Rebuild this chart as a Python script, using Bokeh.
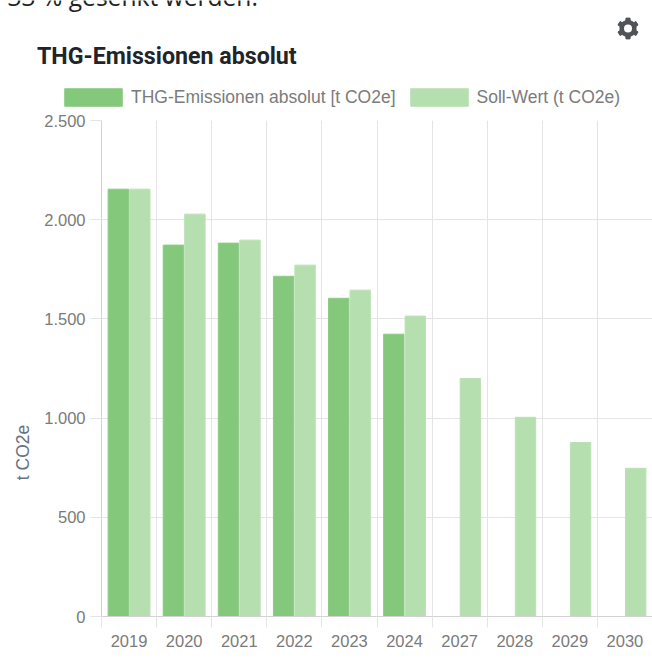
import numpy as np
from bokeh.plotting import figure
from bokeh.layouts import column
from bokeh.core.properties import value
from bokeh.models import ColumnDataSource, FixedTicker, Legend, LegendItem, Label, Range1d
from bokeh.embed import file_html
from bokeh.resources import INLINE

years = ["2019", "2020", "2021", "2022", "2023", "2024", "2027", "2028", "2029", "2030"]
ist = [2154, 1872, 1882, 1715, 1604, 1423, float("nan"), float("nan"), float("nan"), float("nan")]
soll = [2154, 2028, 1897, 1771, 1645, 1514, 1200, 1004, 877, 747]
y_ticks = [0, 500, 1000, 1500, 2000, 2500]
y_labels = ["0", "500", "1.000", "1.500", "2.000", "2.500"]
title_text = "THG-Emissionen absolut"
intro_text = "33 % gesenkt werden."
ist_name = "THG-Emissionen absolut [t CO2e]"
soll_name = "Soll-Wert (t CO2e)"
y_name = "t CO2e"

GRID = "#e4e4e4"
AXIS = "#d2d2d2"
TXT = "#7b7b7b"
DARK = "#84c87b"
LIGHT = "#b6dfaf"
HEAD_H = 108

# header strip: intro line, title, gear, legend
h = figure(width=652, height=HEAD_H, output_backend="svg", toolbar_location=None,
           x_range=Range1d(0, 652), y_range=Range1d(HEAD_H, 0), x_axis_location=None, y_axis_location=None,
           min_border=0, margin=0, outline_line_color=None, border_fill_color=None, frame_align=False)
h.grid.visible = False
h.text(x=[7], y=[4.5], text=[intro_text], y_offset=-9, text_font=value("Open Sans"), text_font_size="24.6px",
       text_color="#222222", text_baseline="alphabetic")
h.text(x=[36.5], y=[55], text=[title_text], text_font=value("Roboto"), text_font_style="bold",
       text_font_size="23.2px", text_color="#212529", text_baseline="middle")

# settings icon
gx, gy = [], []
for k in range(6):
    c = 90 + 60 * k
    for da, r in [(-30, 8.0), (-15, 8.4), (-11, 10.6), (11, 10.6), (15, 8.4)]:
        a = np.radians(c + da)
        gx.append(627.5 + r * np.cos(a))
        gy.append(28 - r * np.sin(a))
h.patch(gx, gy, fill_color="#505458", line_color="#505458", line_width=1)
h.scatter(x=[627.5], y=[28], size=8, marker="circle", fill_color="white", line_color=None)

d1 = h.vbar(x=[float("nan")], top=[float("nan")], width=1, fill_color=DARK, line_color="#8dcc85")
d2 = h.vbar(x=[float("nan")], top=[float("nan")], width=1, fill_color=LIGHT, line_color="#bbe1b4")
legend = Legend(items=[LegendItem(label=ist_name, renderers=[d1]), LegendItem(label=soll_name, renderers=[d2])],
                orientation="horizontal", location=(57, 0),
                glyph_width=72, glyph_height=22, label_standoff=2, spacing=7, padding=0, margin=0,
                background_fill_alpha=0, border_line_color=None,
                label_text_font="Liberation Sans", label_text_font_size="17.5px", label_text_color=TXT,
                label_height=22)
h.add_layout(legend, "center")

idx = np.arange(len(years))
src = ColumnDataSource(dict(x1=idx - 0.195, x2=idx + 0.195, ist=ist, soll=soll))

p = figure(width=652, height=660 - HEAD_H, output_backend="svg", toolbar_location=None,
           x_range=Range1d(-0.5, 9.5), y_range=Range1d(0, 2500),
           min_border_left=101, min_border_right=0, min_border_top=120 - HEAD_H, min_border_bottom=44,
           margin=0, outline_line_color=None, border_fill_color=None, frame_align=False)

p.vbar(x="x1", top="ist", width=0.37, source=src, fill_color=DARK, line_color="#8dcc85", line_width=1)
p.vbar(x="x2", top="soll", width=0.37, source=src, fill_color=LIGHT, line_color="#bbe1b4", line_width=1)

xa = p.xaxis[0]
bounds = list(idx - 0.5) + [9.5]
xa.ticker = FixedTicker(ticks=list(idx), minor_ticks=[float(b) for b in bounds])
xa.major_label_overrides = {int(i): y for i, y in zip(idx, years)}
xa.major_tick_line_color = None
xa.minor_tick_line_color = GRID
xa.minor_tick_out = 11
xa.minor_tick_in = 0
xa.axis_line_color = AXIS
xa.major_label_standoff = 7
xa.major_label_text_font = "Liberation Sans"
xa.major_label_text_font_size = "16.5px"
xa.major_label_text_color = TXT

ya = p.yaxis[0]
ya.ticker = FixedTicker(ticks=y_ticks)
ya.major_label_overrides = dict(zip(y_ticks, y_labels))
ya.major_tick_line_color = GRID
ya.major_tick_out = 11
ya.major_tick_in = 0
ya.minor_tick_line_color = None
ya.axis_line_color = AXIS
ya.major_label_standoff = 5
ya.major_label_text_font = "Liberation Sans"
ya.major_label_text_font_size = "16.5px"
ya.major_label_text_color = TXT

p.ygrid.grid_line_color = GRID
p.xgrid.grid_line_color = None
p.xgrid.minor_grid_line_color = GRID
p.xgrid.ticker = xa.ticker

p.add_layout(Label(x=22, y=452 - HEAD_H, x_units="canvas", y_units="canvas", text=y_name,
                   text_font="Liberation Sans", text_font_size="17.5px", text_color="#647282",
                   angle=np.pi / 2, text_align="center", text_baseline="middle"), "left")

page = column(h, p, spacing=0, margin=0)
open("out.html", "w").write(file_html(page, INLINE))
